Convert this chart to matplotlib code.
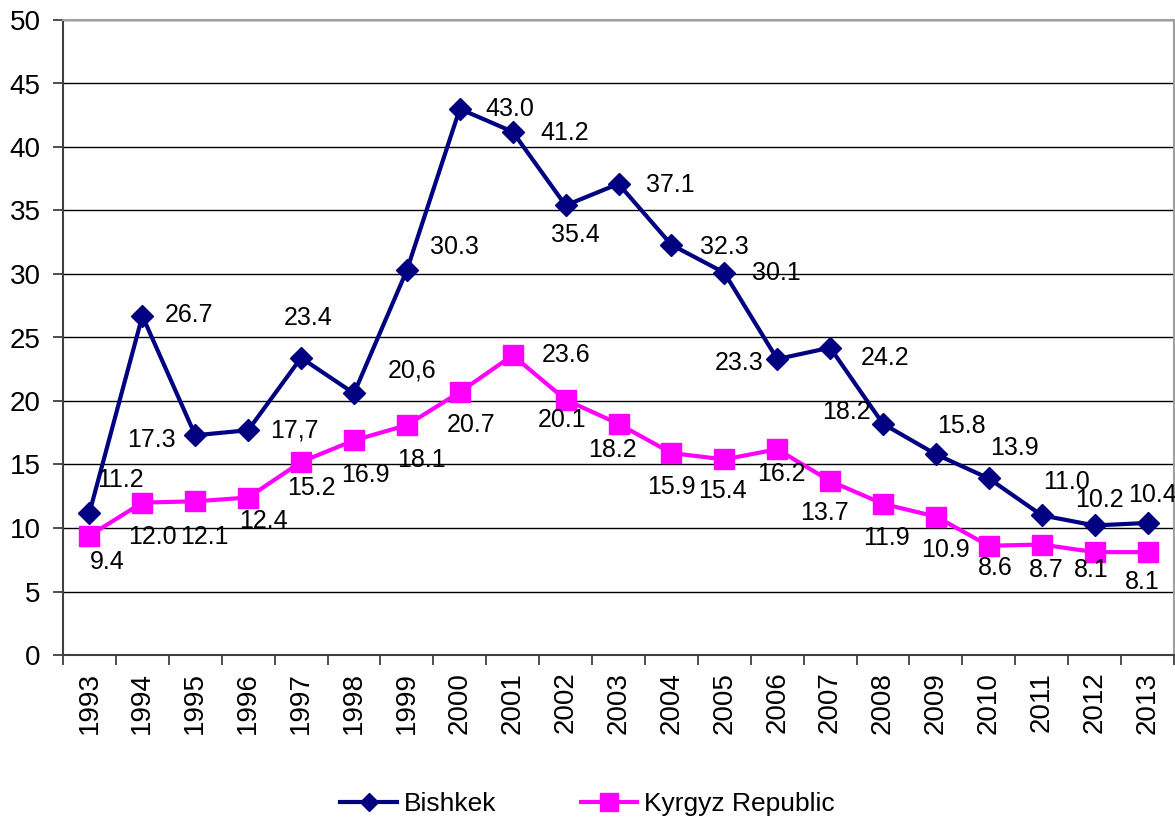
import matplotlib.pyplot as plt
import numpy as np

plt.rcParams['font.family'] = ['Liberation Sans', 'DejaVu Sans']

# данные
years = [str(y) for y in range(1993, 2014)]
bishkek = [11.2, 26.7, 17.3, 17.7, 23.4, 20.6, 30.3, 43.0, 41.2, 35.4, 37.1,
           32.3, 30.1, 23.3, 24.2, 18.2, 15.8, 13.9, 11.0, 10.2, 10.4]
kyrgyz = [9.4, 12.0, 12.1, 12.4, 15.2, 16.9, 18.1, 20.7, 23.6, 20.1, 18.2,
          15.9, 15.4, 16.2, 13.7, 11.9, 10.9, 8.6, 8.7, 8.1, 8.1]
bishkek_text = ['11.2', '26.7', '17.3', '17,7', '23.4', '20,6', '30.3', '43.0', '41.2', '35.4', '37.1',
                '32.3', '30.1', '23.3', '24.2', '18.2', '15.8', '13.9', '11.0', '10.2', '10.4']
kyrgyz_text = ['%.1f' % v for v in kyrgyz]

# смещения подписей (пиксели)
b_off = [(31, 33), (47, 1), (-44, -5), (46, 0), (7, 40), (58, 23), (48, 23), (50, 0), (52, -1),
         (10, -30), (52, -1), (53, -2), (52, 0), (-38, -4), (55, -10), (-37, 12), (26, 28),
         (26, 30), (25, 33), (5, 25), (5, 28)]
k_off = [(18, -26), (10, -34), (9, -36), (15, -23), (10, -26), (11, -35), (15, -35), (11, -33),
         (53, 0), (-4, -20), (-6, -26), (0, -34), (-2, -32), (4, -25), (-6, -32), (3, -34),
         (10, -33), (6, -22), (5, -25), (-3, -18), (-5, -30)]

fig = plt.figure(figsize=(11.75, 8.21), dpi=100)
ax = fig.add_axes([63 / 1175, 166 / 821, 1111 / 1175, 635 / 821])

x = np.arange(len(years))
ax.plot(x, bishkek, color='#000080', lw=3, marker='D', ms=11, label='Bishkek', zorder=4)
ax.plot(x, kyrgyz, color='#FF00FF', lw=3, marker='s', ms=15, label='Kyrgyz Republic', zorder=3)

for i in x:
    ax.annotate(bishkek_text[i], (i, bishkek[i]), xytext=b_off[i], textcoords='offset pixels',
                ha='center', va='center', fontsize=18, zorder=5)
    ax.annotate(kyrgyz_text[i], (i, kyrgyz[i]), xytext=k_off[i], textcoords='offset pixels',
                ha='center', va='center', fontsize=18, zorder=5)

ax.set_xlim(-0.5, len(years) - 0.5)
ax.set_ylim(0, 50)
ax.set_yticks(np.arange(0, 51, 5))
ax.yaxis.grid(True, color='black', lw=1)
ax.set_axisbelow(True)

ax.set_xticks(x)
ax.set_xticklabels(years, rotation=90)
ax.set_xticks(np.arange(-0.5, len(years), 1), minor=True)
ax.tick_params(axis='x', which='major', length=0, pad=12, labelsize=20)
ax.tick_params(axis='x', which='minor', length=7, width=1.3, color='#404040', direction='out')
ax.tick_params(axis='y', length=7, width=1.3, color='#404040', labelsize=20, pad=9)

ax.spines['left'].set_color('#404040')
ax.spines['bottom'].set_color('#404040')
ax.spines['left'].set_linewidth(1.5)
ax.spines['bottom'].set_linewidth(1.5)
ax.spines['top'].set_color('#a0a0a0')
ax.spines['right'].set_color('#a0a0a0')
ax.spines['top'].set_linewidth(1.5)
ax.spines['right'].set_linewidth(1.5)

fig.legend(loc='center', bbox_to_anchor=(0.5, 0.021), ncol=2, frameon=False, fontsize=19,
           handlelength=2.15, columnspacing=3.2, handletextpad=0.25, markerscale=0.85)

plt.savefig('out.png', dpi=100)
